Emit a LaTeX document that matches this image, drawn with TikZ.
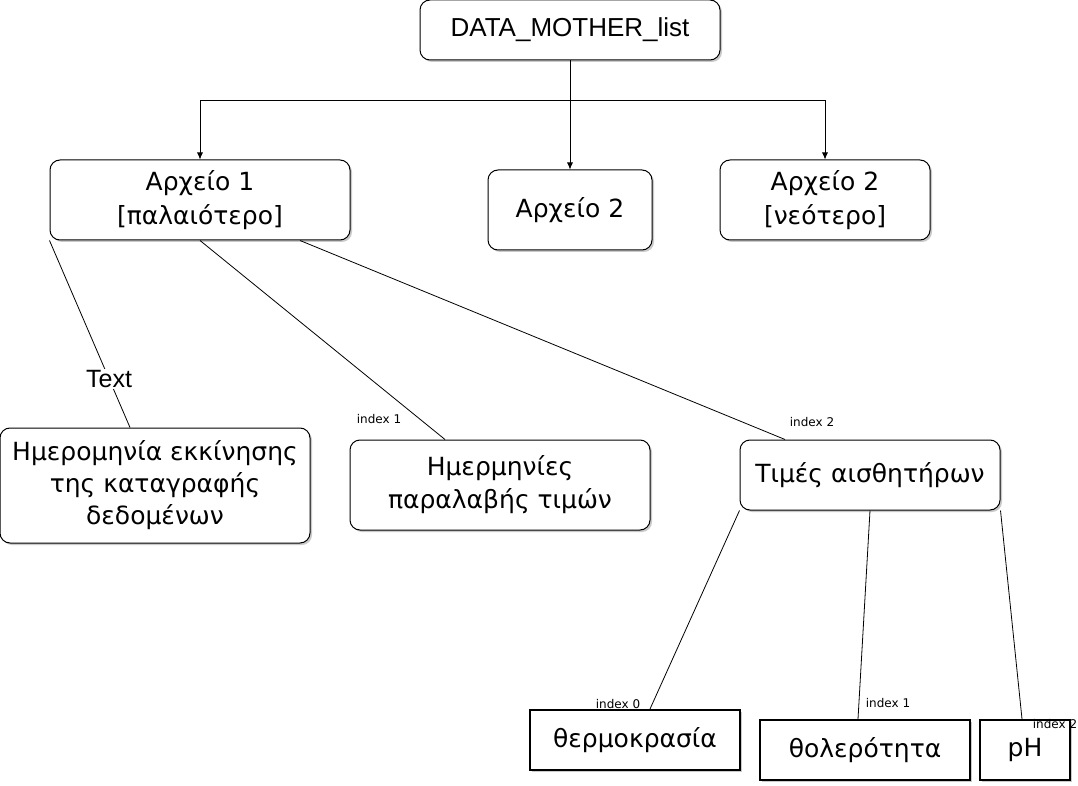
\documentclass[tikz,border=0pt]{standalone}
\usepackage{fontspec}
\setmainfont{Liberation Sans}
\newfontfamily\grfont{DejaVu Sans}
\usetikzlibrary{shadows,arrows.meta}

\tikzset{
  box/.style={draw,rounded corners=10pt,fill=white,line width=1pt,align=center,
    font=\grfont\fontsize{25}{33}\selectfont,
    drop shadow={shadow xshift=2pt,shadow yshift=-2pt,fill=black!35,opacity=.6}},
  leaf/.style={draw,fill=white,line width=2pt,font=\grfont\fontsize{25}{30}\selectfont,
    drop shadow={shadow xshift=2pt,shadow yshift=-2pt,fill=black!35,opacity=.6}},
  tag/.style={font=\grfont\fontsize{12}{14}\selectfont,inner sep=0pt},
  link/.style={line width=.8pt},
  arr/.style={line width=.8pt,-{Latex[length=7pt,width=6pt]}}
}

\begin{document}
\begin{tikzpicture}[x=1pt,y=-1pt]
            \useasboundingbox (0,0) rectangle (1078,786);
            % root and files
            \node[box,minimum width=300pt,minimum height=60pt,font=\rmfamily\fontsize{26}{30}\selectfont] (root) at (570,30){DATA\_MOTHER\_list};
            \node[box,minimum width=300pt,minimum height=80pt,font=\grfont\fontsize{25}{34}\selectfont] (file1) at (200,200){Αρχείο 1\\{}[παλαιότερο]};
            \node[box,minimum width=164pt,minimum height=80pt] (file2) at (570,210){Αρχείο 2};
            \node[box,minimum width=210pt,minimum height=80pt,font=\grfont\fontsize{25}{34}\selectfont] (file3) at (825,200){Αρχείο 2\\{}[νεότερο]};
            % contents of file 1
            \node[box,minimum width=310pt,minimum height=115pt,font=\grfont\fontsize{25}{32}\selectfont] (start) at (155,485.5){Ημερομηνία εκκίνησης\\της καταγραφής\\δεδομένων};
            \node[box,minimum width=300pt,minimum height=90pt] (dates) at (500,485){Ημερμηνίες\\παραλαβής τιμών};
            \node[box,minimum width=260pt,minimum height=70pt] (sens) at (870,475){Τιμές αισθητήρων};
            % sensors
            \node[leaf,minimum width=210pt,minimum height=60pt] (temp) at (635,740){θερμοκρασία};
            \node[leaf,minimum width=210pt,minimum height=60pt] (turb) at (865,750){θολερότητα};
            \node[leaf,minimum width=90pt,minimum height=60pt] (ph) at (1025,750){pH};

            \coordinate (split) at (570,100);
            \draw[link] (root.south) -- (split);
            \draw[arr] (split) -| (file1.north);
            \draw[arr] (split) -- (file2.north);
            \draw[arr] (split) -| (file3.north);

            \draw[link] (file1.south west) -- node[pos=.74,fill=white,font=\rmfamily\fontsize{25}{28}\selectfont,inner sep=1pt]{Text} (start.north west -| 130,0);
            \draw[link] (file1.south) -- (dates.north -| 445,0);
            \draw[link] (file1.south -| 300,0) -- (sens.north -| 785,0);
            \draw[link] (sens.south west) -- (temp.north -| 650,0);
            \draw[link] (sens.south) -- (turb.north -| 858,0);
            \draw[link] (sens.south east) -- (ph.north -| 1022,0);

            \node[tag] (i1) at (379,419){index 1};
            \node[tag] (i2) at (812,422){index 2};
            \node[tag] (t0) at (618,704){index 0};
            \node[tag] (t1) at (888,703){index 1};
            \node[tag] (t2) at (1055,724){index 2};
\end{tikzpicture}
\end{document}
